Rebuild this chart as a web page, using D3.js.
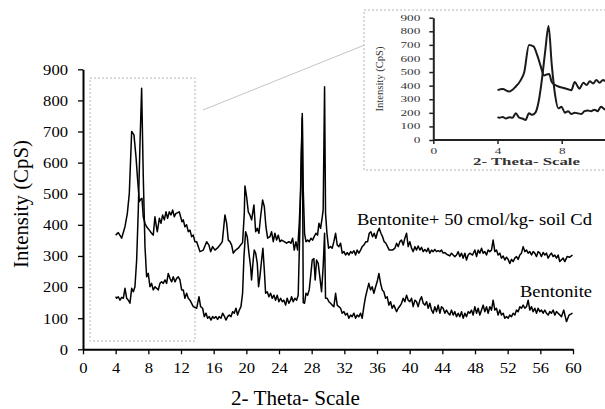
<!DOCTYPE html>
<html lang="en">
<head>
<meta charset="utf-8">
<title>XRD Bentonite</title>
<script src="https://cdn.jsdelivr.net/npm/d3@7"></script>
<style>
body { margin: 0; background: #fff; }
text { font-family: "Liberation Serif", "Times New Roman", serif; }
</style>
</head>
<body>
<svg id="chart"></svg>
<script>
// 2-theta (deg), intensity (CpS)
var cdSeries = [
[4.0,367],[4.32,375],[4.73,357],[5.14,394],[5.43,437],[5.67,501],[5.96,700],[6.24,689],[6.49,619],[6.69,544],
[6.9,475],[7.06,482],[7.22,485],[7.38,426],[7.59,405],[7.79,394],[8.12,383],[8.4,373],[8.6,367],[8.81,426],
[9.02,389],[9.1,378],[9.35,421],[9.55,405],[9.75,432],[9.96,416],[10.16,442],[10.36,421],[10.57,442],[10.77,432],
[10.98,448],[11.18,426],[11.38,437],[11.59,439],[11.79,442],[11.95,426],[12.12,410],[12.28,416],[12.48,394],[12.69,400],
[12.89,378],[13.1,383],[13.3,362],[13.5,367],[13.7,346],[13.92,346],[14.32,314],[14.73,319],[15.14,346],[15.42,335],
[15.63,314],[15.87,330],[16.16,319],[16.44,325],[16.77,335],[17.06,346],[17.38,432],[17.59,405],[17.79,351],[17.99,346],
[18.2,335],[18.4,309],[18.69,319],[19.01,325],[19.3,335],[19.54,343],[19.75,437],[19.83,525],[20.03,491],[20.24,442],
[20.44,432],[20.65,416],[20.93,464],[21.14,378],[21.34,389],[21.54,373],[21.75,426],[21.99,480],[22.2,459],[22.4,394],
[22.61,357],[22.89,362],[23.09,378],[23.3,346],[23.5,373],[23.71,351],[23.91,367],[24.11,346],[24.32,351],[24.64,346],
[24.93,341],[25.21,346],[25.46,341],[25.67,357],[25.87,319],[26.07,346],[26.28,319],[26.48,405],[26.68,523],[26.85,758],
[26.97,512],[27.13,373],[27.3,346],[27.5,351],[27.7,346],[27.91,357],[28.11,351],[28.31,362],[28.52,373],[28.72,367],
[28.89,405],[29.09,389],[29.3,426],[29.41,448],[29.58,844],[29.7,437],[29.87,373],[30.07,325],[30.31,330],[30.51,325],
[30.72,346],[30.93,373],[31.13,335],[31.33,330],[31.54,341],[31.74,309],[31.95,314],[32.15,303],[32.35,311],[32.56,303],
[32.77,314],[32.96,309],[33.17,317],[33.38,303],[33.57,319],[33.78,309],[33.99,319],[34.19,330],[34.39,335],[34.64,346],
[34.85,346],[35.05,373],[35.25,378],[35.46,362],[35.66,373],[35.86,357],[36.07,378],[36.27,389],[36.48,373],[36.68,362],
[36.88,346],[37.09,341],[37.29,330],[37.5,319],[37.9,319],[38.19,325],[38.4,341],[38.6,330],[38.8,346],[39.0,351],
[39.21,335],[39.41,357],[39.62,373],[39.82,330],[40.02,346],[40.23,325],[40.43,314],[40.64,330],[40.84,319],[41.04,332],
[41.25,319],[41.45,328],[41.66,314],[41.86,321],[42.07,314],[42.27,325],[42.47,309],[42.68,319],[42.88,314],[43.08,321],
[43.29,314],[43.49,317],[43.7,314],[43.9,319],[44.1,309],[44.31,311],[44.51,306],[44.72,303],[44.92,300],[45.12,309],
[45.33,303],[45.53,298],[45.74,303],[45.94,314],[46.14,298],[46.35,309],[46.55,293],[46.76,309],[46.96,287],[47.16,303],
[47.37,309],[47.7,303],[47.98,319],[48.19,298],[48.39,319],[48.59,309],[48.8,325],[49.0,309],[49.2,314],[49.41,303],
[49.61,319],[49.82,314],[50.02,319],[50.22,351],[50.43,314],[50.63,319],[50.83,303],[51.04,309],[51.24,293],[51.45,300],
[51.65,287],[51.86,296],[52.06,289],[52.26,276],[52.47,289],[52.67,282],[52.88,293],[53.08,298],[53.28,289],[53.49,303],
[53.69,309],[53.9,330],[54.1,314],[54.31,319],[54.51,309],[54.71,314],[54.92,303],[55.12,314],[55.32,309],[55.53,298],
[55.73,314],[55.94,309],[56.14,298],[56.34,311],[56.55,303],[56.75,309],[56.96,293],[57.16,303],[57.36,309],[57.57,298],
[57.77,303],[57.98,293],[58.18,303],[58.38,282],[58.79,293],[59.0,282],[59.28,298],[59.6,296],[59.94,303]
];

var bentSeries = [
[4.0,169],[4.12,164],[4.32,169],[4.53,158],[4.73,167],[4.94,164],[5.14,196],[5.35,164],[5.55,158],[5.75,148],
[5.96,196],[6.16,185],[6.36,201],[6.57,287],[6.77,448],[6.98,662],[7.18,839],[7.38,555],[7.59,330],[7.79,233],
[7.99,244],[8.2,201],[8.4,212],[8.6,191],[8.81,201],[9.02,196],[9.22,191],[9.42,212],[9.63,217],[9.83,212],
[10.04,223],[10.24,212],[10.44,244],[10.65,228],[10.86,217],[11.05,233],[11.26,217],[11.47,228],[11.67,233],[11.87,223],
[12.08,191],[12.28,191],[12.48,164],[12.69,180],[12.89,164],[13.1,158],[13.5,137],[13.92,132],[14.2,169],[14.4,137],
[14.65,132],[14.85,105],[15.06,116],[15.26,100],[15.46,105],[15.67,94],[15.87,105],[16.07,100],[16.28,105],[16.48,96],
[16.68,105],[16.89,100],[17.1,116],[17.3,107],[17.5,94],[17.71,105],[17.91,110],[18.12,105],[18.32,121],[18.52,116],
[18.73,132],[18.93,110],[19.14,126],[19.34,137],[19.54,180],[19.71,298],[19.91,378],[20.11,362],[20.32,309],[20.52,266],
[20.64,223],[20.84,287],[20.97,319],[21.14,309],[21.34,276],[21.5,201],[21.66,233],[21.87,287],[22.03,325],[22.2,255],
[22.36,180],[22.56,185],[22.77,169],[22.97,180],[23.17,164],[23.38,174],[23.58,158],[23.78,174],[23.99,153],[24.2,164],
[24.4,153],[24.6,158],[24.81,142],[25.0,164],[25.21,148],[25.42,158],[25.54,169],[25.74,153],[25.95,164],[26.16,158],
[26.35,174],[26.56,394],[26.72,630],[26.85,745],[26.97,150],[27.13,148],[27.3,180],[27.5,174],[27.7,191],[27.91,244],
[28.07,287],[28.27,292],[28.43,223],[28.6,287],[28.8,276],[29.0,233],[29.21,185],[29.41,266],[29.58,373],[29.7,164],
[29.9,164],[30.11,153],[30.31,148],[30.51,142],[30.72,137],[30.93,180],[31.13,142],[31.33,137],[31.54,132],[31.74,116],
[31.95,121],[32.15,110],[32.35,116],[32.56,100],[32.77,110],[32.96,105],[33.17,116],[33.38,100],[33.57,110],[33.78,105],
[33.99,116],[34.19,100],[34.39,137],[34.6,169],[34.8,191],[35.0,212],[35.21,191],[35.41,201],[35.62,180],[35.83,201],
[36.02,217],[36.23,244],[36.44,212],[36.64,191],[36.84,185],[37.05,164],[37.25,169],[37.45,142],[37.66,153],[37.86,132],
[38.07,142],[38.4,121],[38.6,132],[38.8,139],[39.0,148],[39.21,164],[39.41,153],[39.62,174],[39.82,158],[40.02,153],
[40.23,164],[40.43,137],[40.64,158],[40.84,153],[41.04,137],[41.25,158],[41.45,169],[41.66,148],[41.86,142],[42.07,153],
[42.27,132],[42.47,148],[42.68,126],[42.88,116],[43.08,137],[43.29,121],[43.49,142],[43.7,116],[43.9,137],[44.1,132],
[44.31,116],[44.51,126],[44.72,116],[44.92,110],[45.12,126],[45.33,110],[45.53,121],[45.74,105],[45.94,116],[46.14,105],
[46.35,121],[46.55,100],[46.76,116],[46.96,105],[47.16,121],[47.37,116],[47.57,126],[47.77,110],[47.98,137],[48.19,116],
[48.39,132],[48.59,110],[48.8,126],[49.0,142],[49.2,121],[49.41,137],[49.61,116],[49.82,137],[50.02,126],[50.22,158],
[50.43,126],[50.63,132],[50.83,110],[51.04,126],[51.24,110],[51.45,116],[51.65,100],[51.86,105],[52.06,100],[52.26,110],
[52.47,105],[52.67,116],[52.88,110],[53.08,126],[53.28,121],[53.49,137],[53.69,132],[53.9,142],[54.1,132],[54.31,137],
[54.51,158],[54.71,126],[54.92,137],[55.12,121],[55.32,132],[55.53,116],[55.73,132],[55.94,121],[56.14,126],[56.34,116],
[56.55,126],[56.75,116],[56.96,110],[57.16,121],[57.36,116],[57.57,126],[57.77,110],[57.98,121],[58.18,116],[58.59,105],
[58.87,126],[59.2,89],[59.52,110],[59.94,116]
];

var xTicks = [0,4,8,12,16,20,24,28,32,36,40,44,48,52,56,60];
var yTicks = [0,100,200,300,400,500,600,700,800,900];
var insetXTicks = [0,4,8];
var seriesLabels = ["Bentonite+ 50 cmol/kg- soil Cd", "Bentonite"];

var width = 605;
var height = 409;

var svg = d3.select("#chart")
    .attr("width", width)
    .attr("height", height);

var x = d3.scaleLinear().domain([0, 60]).range([83, 573]);
var y = d3.scaleLinear().domain([0, 900]).range([349.3, 69.3]);

var line = d3.line()
    .x(function(d){ return x(d[0]); })
    .y(function(d){ return y(d[1]); });

// zoom box + connector
svg.append("rect")
    .attr("x", 90).attr("y", 78)
    .attr("width", 105).attr("height", 263)
    .attr("fill", "none")
    .attr("stroke", "#b4b4b4")
    .attr("stroke-dasharray", "2,2");

svg.append("line")
    .attr("x1", 203).attr("y1", 110)
    .attr("x2", 372).attr("y2", 42)
    .attr("stroke", "#c4c4c4")
    .attr("stroke-width", 1);

// series
svg.append("path")
    .datum(cdSeries)
    .attr("d", line)
    .attr("fill", "none")
    .attr("stroke", "#000")
    .attr("stroke-width", 1.5)
    .attr("stroke-linejoin", "round");

svg.append("path")
    .datum(bentSeries)
    .attr("d", line)
    .attr("fill", "none")
    .attr("stroke", "#000")
    .attr("stroke-width", 1.5)
    .attr("stroke-linejoin", "round");

// axes
var xAxis = svg.append("g")
    .attr("transform", "translate(0," + y(0) + ")")
    .call(d3.axisBottom(x).tickValues(xTicks).tickSize(5).tickSizeOuter(0).tickPadding(8));

var yAxis = svg.append("g")
    .attr("transform", "translate(" + x(0) + ",0)")
    .call(d3.axisLeft(y).tickValues(yTicks).tickSize(5).tickSizeOuter(0).tickPadding(10));

[xAxis, yAxis].forEach(function(g){
    g.select(".domain").attr("stroke", "#000").attr("stroke-width", 2);
    g.selectAll(".tick line").attr("stroke", "#000").attr("stroke-width", 1.3);
    g.selectAll(".tick text")
        .attr("fill", "#000")
        .attr("textLength", function(d){ return String(d).length * 8.3; })
        .attr("lengthAdjust", "spacingAndGlyphs")
        .style("font-family", '"Liberation Serif", serif')
        .style("font-size", "15px");
});

// titles
svg.append("text")
    .attr("x", 231).attr("y", 405)
    .attr("textLength", 129).attr("lengthAdjust", "spacingAndGlyphs")
    .style("font-size", "21px")
    .text("2- Theta- Scale");

svg.append("text")
    .attr("transform", "translate(28,204) rotate(-90)")
    .attr("text-anchor", "middle")
    .attr("textLength", 128).attr("lengthAdjust", "spacingAndGlyphs")
    .style("font-size", "21px")
    .text("Intensity (CpS)");

svg.append("text")
    .attr("x", 357).attr("y", 225)
    .attr("textLength", 235).attr("lengthAdjust", "spacingAndGlyphs")
    .style("font-size", "17px")
    .text(seriesLabels[0]);

svg.append("text")
    .attr("x", 520).attr("y", 296.5)
    .attr("textLength", 72).attr("lengthAdjust", "spacingAndGlyphs")
    .style("font-size", "17px")
    .text(seriesLabels[1]);

// ---- inset ----
var inset = svg.append("g");

inset.append("rect")
    .attr("x", 364).attr("y", 10)
    .attr("width", 250).attr("height", 160)
    .attr("fill", "#fff")
    .attr("stroke", "#b4b4b4")
    .attr("stroke-dasharray", "2,2");

var ix = d3.scaleLinear().domain([0, 8]).range([433.3, 561.7]);
var iy = d3.scaleLinear().domain([0, 900]).range([140, 17.7]);

svg.append("clipPath").attr("id", "insetClip")
    .append("rect").attr("x", 433).attr("y", 0).attr("width", 180).attr("height", 141);

var iline = d3.line()
    .x(function(d){ return ix(d[0]); })
    .y(function(d){ return iy(d[1]); })
    .curve(d3.curveMonotoneX);

[cdSeries, bentSeries].forEach(function(s){
    inset.append("path")
        .datum(s.filter(function(d){ return d[0] < 11.5; }))
        .attr("d", iline)
        .attr("clip-path", "url(#insetClip)")
        .attr("fill", "none")
        .attr("stroke", "#1a1a1a")
        .attr("stroke-width", 2)
        .attr("stroke-linejoin", "round");
});

var ixAxis = inset.append("g")
    .attr("transform", "translate(0," + iy(0) + ")")
    .call(d3.axisBottom(ix).tickValues(insetXTicks).tickSize(4).tickSizeOuter(0).tickPadding(4));
ixAxis.select(".domain").attr("d", "M433.3,0H605");

var iyAxis = inset.append("g")
    .attr("transform", "translate(" + ix(0) + ",0)")
    .call(d3.axisLeft(iy).tickValues(yTicks).tickSize(4).tickSizeOuter(0).tickPadding(9));

[ixAxis, iyAxis].forEach(function(g){
    g.select(".domain").attr("stroke", "#222").attr("stroke-width", 2);
    g.selectAll(".tick line").attr("stroke", "#222").attr("stroke-width", 1.5);
    g.selectAll(".tick text")
        .attr("fill", "#333")
        .attr("textLength", function(d){ return String(d).length * 6.6; })
        .attr("lengthAdjust", "spacingAndGlyphs")
        .style("font-family", '"Liberation Serif", serif')
        .style("font-size", "8px");
});

inset.append("text")
    .attr("x", 473).attr("y", 164.5)
    .attr("textLength", 107).attr("lengthAdjust", "spacingAndGlyphs")
    .attr("fill", "#333")
    .style("font-size", "9.5px")
    .style("font-weight", "bold")
    .text("2- Theta- Scale");

inset.append("text")
    .attr("transform", "translate(383,79) rotate(-90)")
    .attr("text-anchor", "middle")
    .attr("textLength", 65).attr("lengthAdjust", "spacingAndGlyphs")
    .attr("fill", "#333")
    .style("font-size", "10px")
    .text("Intensity (CpS)");
</script>
</body>
</html>
